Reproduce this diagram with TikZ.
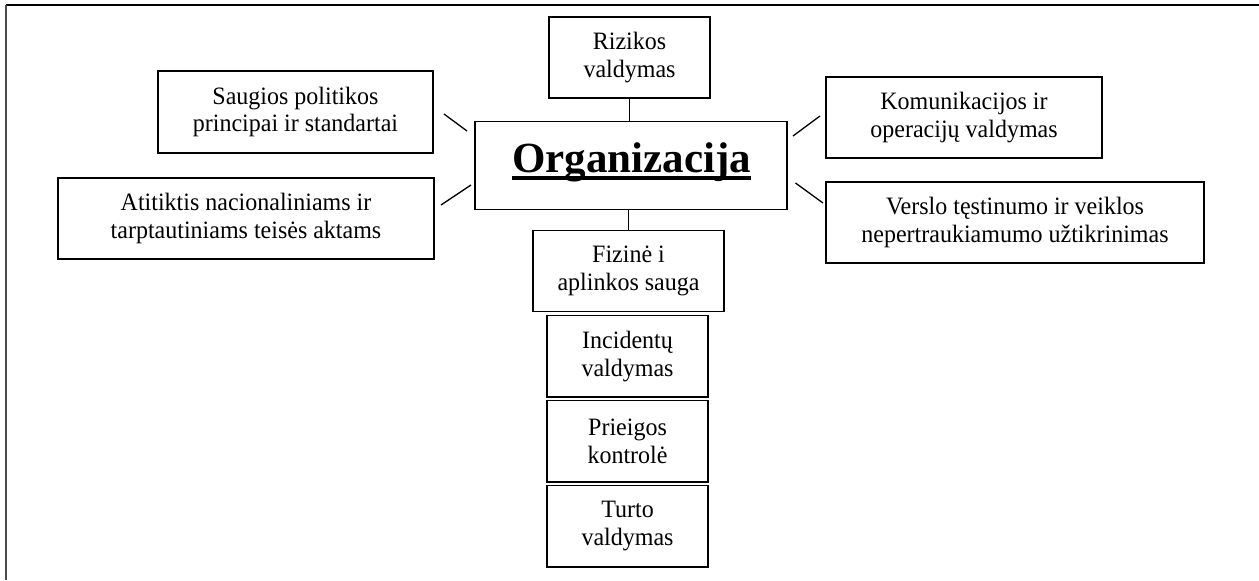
\documentclass[tikz,border=0pt]{standalone}
\usepackage{fontspec}
\setmainfont{Liberation Serif}
\newfontfamily\boxfont[FakeStretch=0.96]{Liberation Serif}
\begin{document}
\begin{tikzpicture}[x=0.5pt,y=-0.5pt,
  box/.style={draw=black, line width=0.65pt, align=center, inner sep=0pt,
    font=\boxfont\fontsize{12.5}{13.9}\selectfont, minimum height=40.5pt},
  conn/.style={draw=black, line width=0.65pt}]
\useasboundingbox (0,0) rectangle (1259,580);
% frame (only top and left visible)
\draw[line width=0.9pt] (1259,4.7) -- (5.7,4.7);
\draw[line width=1.1pt, black!70] (5.7,4.7) -- (5.7,580);
% boxes
\node[box, minimum width=80.5pt] (riz) at (629.5,57.5) {Rizikos\\valdymas};
\node[box, minimum width=137.5pt, minimum height=41pt] (saug) at (295.5,112) {Saugios politikos\\principai ir standartai};
\node[box, minimum width=156pt, minimum height=44pt] (org) at (631,165.5) {};
\node[font=\fontsize{21.5}{24}\selectfont\bfseries, inner sep=0pt, anchor=base] (orgtxt) at (631.5,172)
  {\setbox0\hbox{Organizacija}\rlap{\rule[-4pt]{\wd0}{1.9pt}}\box0};
\node[box, minimum width=138pt] (kom) at (964,117.5) {Komunikacijos ir\\operacijų valdymas};
\node[box, minimum width=188pt] (atit) at (246,218.5) {Atitiktis nacionaliniams ir\\tarptautiniams teisės aktams};
\node[box, minimum width=189pt] (vers) at (1015,222.5) {Verslo tęstinumo ir veiklos\\nepertraukiamumo užtikrinimas};
\node[box, minimum width=95.5pt] (fiz) at (628.5,271) {Fizinė i\\aplinkos sauga};
\node[box, minimum width=80.5pt, minimum height=40.75pt] (inc) at (627.5,356.3) {Incidentų\\valdymas};
\node[box, minimum width=80.5pt, minimum height=40.75pt] (prie) at (627.5,441.3) {Prieigos\\kontrolė};
\node[box, minimum width=80.5pt, minimum height=40.75pt] (turto) at (627.5,526.3) {Turto\\valdymas};
% connectors
\draw[conn] (riz.south) -- (riz.south |- org.north);
\draw[conn] (org.south -| fiz.north) -- (fiz.north);
\coordinate (s1) at (444,114); \coordinate (s2) at (467,131);
\coordinate (a1) at (441,205); \coordinate (a2) at (471,185);
\coordinate (k1) at (793,136); \coordinate (k2) at (820,116);
\coordinate (v1) at (795.5,183); \coordinate (v2) at (823,203);
\draw[conn] (s1) -- (s2);
\draw[conn] (a1) -- (a2);
\draw[conn] (k1) -- (k2);
\draw[conn] (v1) -- (v2);
\end{tikzpicture}
\end{document}
